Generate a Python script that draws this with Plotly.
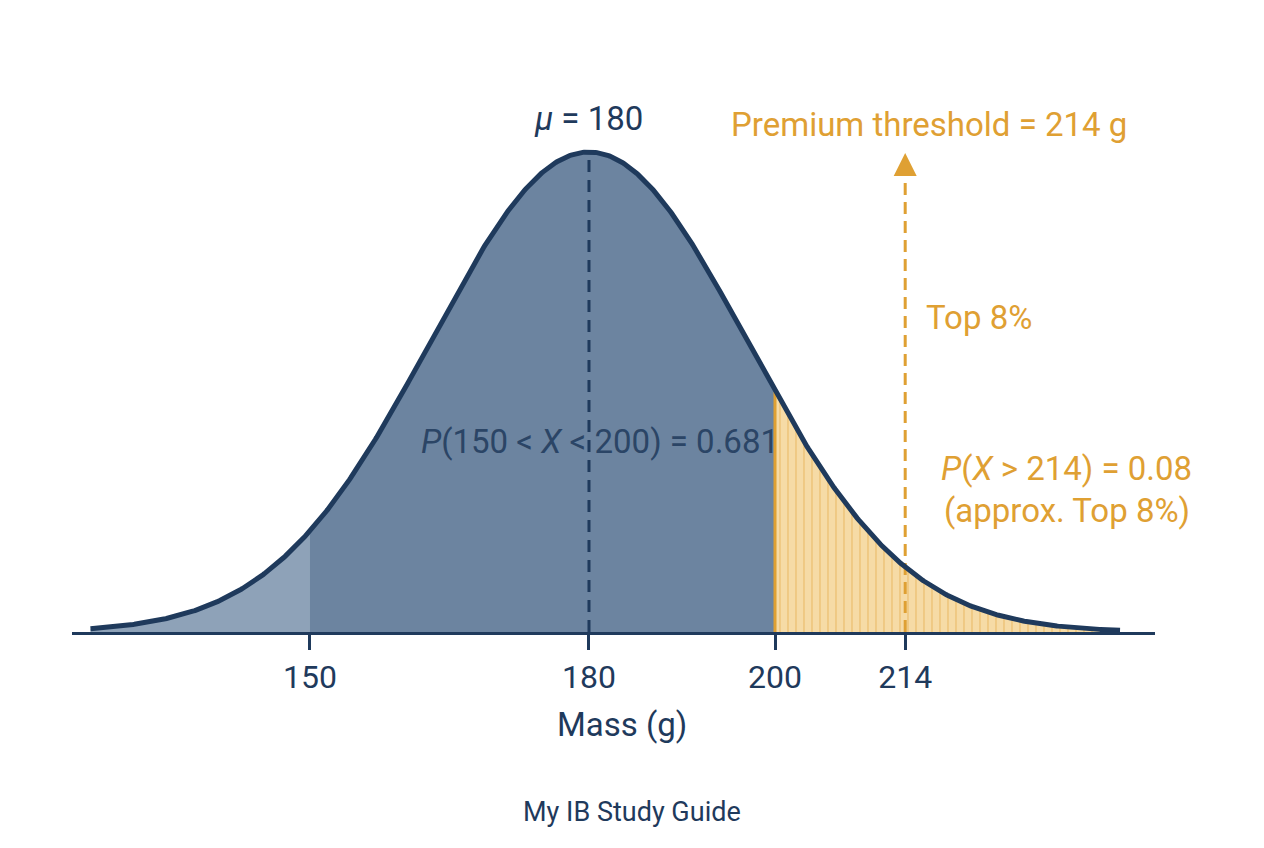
import numpy as np
import plotly.graph_objects as go

# ---- data ----
MU = 180            # mean mass (g)
SIGMA = 17.0        # visual spread of the drawn curve
CURVE_START = 126.4
CURVE_END = 237.1
LOWER = 150
UPPER = 200
THRESHOLD = 214
tick_vals = [150, 180, 200, 214]
tick_text = ["150", "180", "200", "214"]

NAVY = "#1f3a5c"
GOLD = "#dfa033"
FILL_MID = "#6c84a0"
FILL_LEFT = "#8ea2b8"
FILL_GOLD = "#f6dba6"
FONT = "Roboto"


def pdf(x):
    return np.exp(-0.5 * ((x - MU) / SIGMA) ** 2) / (SIGMA * np.sqrt(2 * np.pi))


x_all = np.linspace(CURVE_START, CURVE_END, 800)
x_left = np.linspace(CURVE_START, LOWER, 200)
x_mid = np.linspace(LOWER, UPPER, 300)
x_right = np.linspace(UPPER, CURVE_END, 300)
peak = pdf(MU)

fig = go.Figure()

fig.add_trace(go.Scatter(x=x_left, y=pdf(x_left), mode="lines", line=dict(width=0),
                         fill="tozeroy", fillcolor=FILL_LEFT, hoverinfo="skip"))
fig.add_trace(go.Scatter(x=x_mid, y=pdf(x_mid), mode="lines", line=dict(width=0),
                         fill="tozeroy", fillcolor=FILL_MID, hoverinfo="skip"))
fig.add_trace(go.Scatter(x=x_right, y=pdf(x_right), mode="lines", line=dict(width=0, color=GOLD),
                         fill="tozeroy", fillcolor=FILL_GOLD,
                         fillpattern=dict(shape="|", fgcolor=GOLD, bgcolor=FILL_GOLD,
                                          size=8, solidity=0.15),
                         hoverinfo="skip"))
# boundary at 200
fig.add_trace(go.Scatter(x=[UPPER, UPPER], y=[0, pdf(UPPER)], mode="lines",
                         line=dict(color=GOLD, width=3), hoverinfo="skip"))
# mean dashed line
fig.add_trace(go.Scatter(x=[MU, MU], y=[0, peak], mode="lines",
                         line=dict(color=NAVY, width=3, dash="12px,8px"), hoverinfo="skip"))
# threshold dashed arrow
fig.add_trace(go.Scatter(x=[THRESHOLD, THRESHOLD], y=[0, peak * 0.948], mode="lines",
                         line=dict(color=GOLD, width=3, dash="12px,7px"), hoverinfo="skip"))
fig.add_trace(go.Scatter(x=[THRESHOLD], y=[peak * 0.998], mode="markers",
                         marker=dict(symbol="arrow-up", size=23, color=GOLD,
                                     line=dict(width=0)),
                         hoverinfo="skip"))
# curve outline
fig.add_trace(go.Scatter(x=x_all, y=pdf(x_all), mode="lines",
                         line=dict(color=NAVY, width=5), hoverinfo="skip"))

ymax = peak * 532 / 480

def py(Y):
    return (632 - Y) / 532

def px(X):
    return (X - 72) / 1083

annos = [
    dict(text="<i>μ</i> = 180", x=px(588), y=py(118), font=dict(size=33, color=NAVY)),
    dict(text="Premium threshold = 214 g", x=px(929), y=py(125), font=dict(size=33, color=GOLD)),
    dict(text="Top 8%", x=px(924), y=py(317), xanchor="left", font=dict(size=33, color=GOLD)),
    dict(text="<i>P</i>(150 &lt; <i>X</i> &lt; 200) = 0.681", x=px(600), y=py(441),
         font=dict(size=33, color="#2b4566")),
    dict(text="<i>P</i>(<i>X</i> &gt; 214) = 0.08", x=px(1066), y=py(468), font=dict(size=33, color=GOLD)),
    dict(text="(approx. Top 8%)", x=px(1067), y=py(510), font=dict(size=33, color=GOLD)),
    dict(text="Mass (g)", x=px(622), y=py(724), font=dict(size=33, color=NAVY)),
    dict(text="My IB Study Guide", x=px(632), y=py(812), font=dict(size=27, color=NAVY)),
]
for a in annos:
    a.setdefault("xanchor", "center")
    a.update(xref="paper", yref="paper", yanchor="middle", showarrow=False)
    a["font"]["family"] = FONT

fig.update_layout(
    width=1264, height=848,
    margin=dict(l=72, r=109, t=100, b=216),
    paper_bgcolor="white", plot_bgcolor="white",
    showlegend=False,
    annotations=annos,
    font=dict(family=FONT, color=NAVY),
)
fig.update_xaxes(range=[124.41, 240.86], showgrid=False, zeroline=False,
                 showline=True, linecolor=NAVY, linewidth=2.5,
                 ticks="outside", ticklen=15, tickwidth=2.5, tickcolor=NAVY,
                 tickvals=tick_vals, ticktext=tick_text,
                 tickfont=dict(size=32, color=NAVY, family=FONT), ticklabelstandoff=0)
fig.update_yaxes(range=[0, ymax], visible=False, showgrid=False, zeroline=False)

fig.write_html("out.html")
